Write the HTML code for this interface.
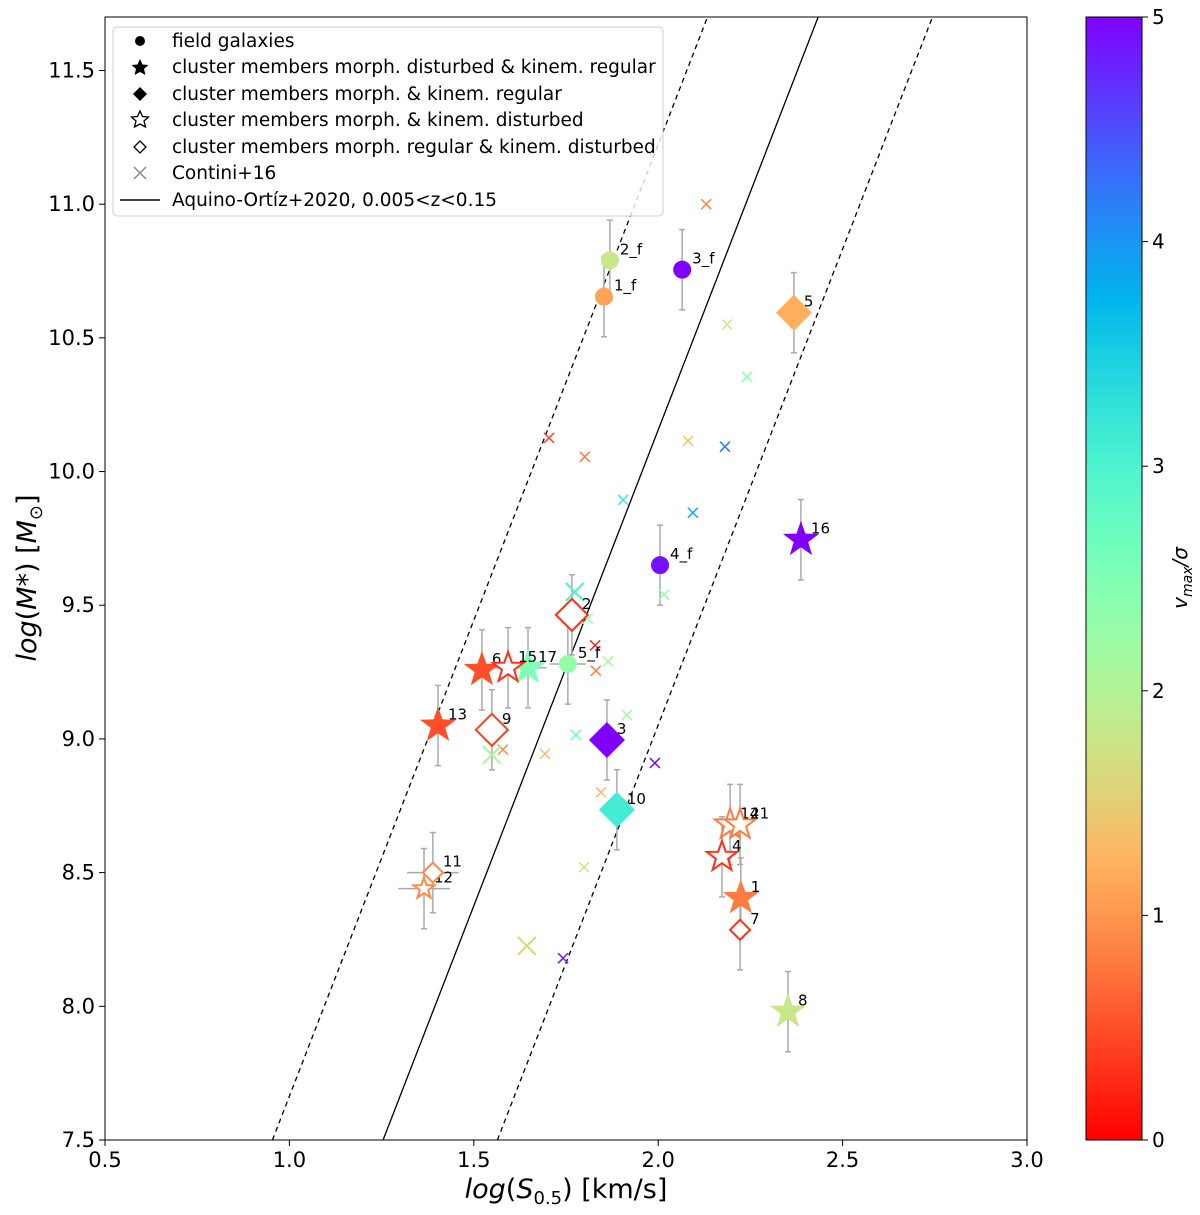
<!DOCTYPE html>
<html><head><meta charset="utf-8"><style>
body{margin:0;background:#fff;}
svg{display:block;font-family:"DejaVu Sans","Liberation Sans",sans-serif;}
</style></head><body>
<svg id="chart" width="1200" height="1215">
<defs><linearGradient id="cbar" x1="0" y1="1" x2="0" y2="0"></linearGradient></defs>
</svg>
<script>
// ---- data ----
const fieldNames = ["1_f","2_f","3_f","4_f","5_f"];
const fieldX = [1.853,1.869,2.065,2.005,1.755];
const fieldY = [10.654,10.79,10.755,9.65,9.28];
const fieldC = [1.1,1.8,5.0,4.9,2.3];

const starNames = ["16","6","17","13","1","8"];
const starX = [2.387,1.522,1.647,1.403,2.224,2.352];
const starY = [9.745,9.258,9.266,9.05,8.405,7.98];
const starC = [5.0,0.5,2.5,0.5,0.8,1.8];

const diaNames = ["5","3","10"];
const diaX = [2.368,1.861,1.888];
const diaY = [10.594,8.996,8.735];
const diaC = [1.2,5.0,3.1];

const ostarNames = ["15","4","14","21","12"];
const ostarX = [1.593,2.173,2.195,2.222,1.365];
const ostarY = [9.266,8.559,8.68,8.68,8.44];
const ostarC = [0.3,0.3,0.8,0.8,0.9];
const ostarBig = [1,1,1,1,0];

const odiaNames = ["2","9","11","7"];
const odiaX = [1.766,1.549,1.389,2.222];
const odiaY = [9.464,9.034,8.5,8.286];
const odiaC = [0.3,0.4,0.9,0.3];
const odiaBig = [1,1,0,0];

const conX = [2.130,2.187,2.241,1.704,1.801,2.081,2.181,1.905,2.094,1.774,1.809,2.016,1.829,1.831,1.864,1.915,1.777,1.693,1.579,1.549,1.991,1.845,1.799,1.644,1.742];
const conY = [11.0,10.55,10.354,10.126,10.055,10.115,10.093,9.894,9.846,9.55,9.45,9.54,9.35,9.255,9.29,9.09,9.015,8.944,8.96,8.94,8.91,8.80,8.52,8.226,8.18];
const conC = [0.9,1.8,2.5,0.4,0.8,1.4,4.2,3.2,3.8,3.0,2.3,2.3,0.2,0.8,2.1,2.2,2.7,1.4,0.9,2.1,5.0,1.3,1.8,1.6,4.8];
const conBig = [0,0,0,0,0,0,0,0,0,1,0,0,0,0,0,0,0,0,0,1,0,0,0,1,0];

const xTicks = [0.5,1.0,1.5,2.0,2.5,3.0];
const yTicks = [7.5,8.0,8.5,9.0,9.5,10.0,10.5,11.0,11.5];
const cTicks = [0,1,2,3,4,5];

// ---- axes ----
const L=105,R=1027,T=17,B=1140, XMIN=0.5,XMAX=3.0,YMIN=7.5,YMAX=11.7;
const sx=v=>L+(v-XMIN)/(XMAX-XMIN)*(R-L);
const sy=v=>B-(v-YMIN)/(YMAX-YMIN)*(B-T);
const svg=document.getElementById('chart');
const NS="http://www.w3.org/2000/svg";
function mk(tag,attrs,parent){const e=document.createElementNS(NS,tag);for(const k in attrs)e.setAttribute(k,attrs[k]);(parent||svg).appendChild(e);return e;}
function cmap(c){const x=1-c/5;const cl=v=>Math.max(0,Math.min(1,v));
 const r=cl(Math.abs(2*x-0.5)),g=cl(Math.sin(Math.PI*x)),b=cl(Math.cos(Math.PI*x/2));
 return `rgb(${Math.round(r*255)},${Math.round(g*255)},${Math.round(b*255)})`;}
function starPts(cx,cy,r){let p=[];for(let i=0;i<10;i++){const a=-Math.PI/2+i*Math.PI/5;const rr=i%2?r*0.4:r;p.push((cx+rr*Math.cos(a)).toFixed(1)+","+(cy+rr*Math.sin(a)).toFixed(1));}return p.join(" ");}
function diaPts(cx,cy,r){return `${cx},${cy-r} ${cx+r},${cy} ${cx},${cy+r} ${cx-r},${cy}`;}

// regression lines
const slope=3.56, x0=1.254;
[[0,"none"],[-0.3,"5,4"],[0.31,"5,4"]].forEach((d,i)=>{
 const xa=x0+d[0], xb=xa+(YMAX-YMIN)/slope;
 const ln=mk('line',{x1:sx(xa),y1:sy(YMIN),x2:sx(xb),y2:sy(YMAX),stroke:"#000","stroke-width":1.3,"stroke-dasharray":d[1]});
 
 
});

// error bars
function ebar(x,y,dy,dx){
 const g=mk('g',{stroke:"#aaa","stroke-width":1.5});
 
 
 mk('line',{x1:sx(x),x2:sx(x),y1:sy(y-dy),y2:sy(y+dy)},g);
 mk('line',{x1:sx(x)-3,x2:sx(x)+3,y1:sy(y-dy),y2:sy(y-dy)},g);
 mk('line',{x1:sx(x)-3,x2:sx(x)+3,y1:sy(y+dy),y2:sy(y+dy)},g);
 if(dx){mk('line',{x1:sx(x-dx),x2:sx(x+dx),y1:sy(y),y2:sy(y)},g);}
}
fieldX.forEach((x,i)=>ebar(x,fieldY[i],0.15,i==4?0.05:0));
starX.forEach((x,i)=>ebar(x,starY[i],0.15,i==2?0.05:0));
diaX.forEach((x,i)=>ebar(x,diaY[i],0.15,0));
ostarX.forEach((x,i)=>ebar(x,ostarY[i],0.15,i==4?0.07:(i==0?0.05:0)));
odiaX.forEach((x,i)=>ebar(x,odiaY[i],0.15,i==2?0.07:0));

function label(x,y,t){const e=mk('text',{x:sx(x)+10,y:sy(y)-6,"font-size":15,fill:"#000"});e.textContent=t;
 
 }

// contini crosses
conX.forEach((x,i)=>{const r=conBig[i]?9:5;const X=sx(x),Y=sy(conY[i]);
 const g=mk('g',{stroke:cmap(conC[i]),"stroke-width":conBig[i]?2:1.5});
 
 
 mk('line',{x1:X-r,y1:Y-r,x2:X+r,y2:Y+r},g);mk('line',{x1:X-r,y1:Y+r,x2:X+r,y2:Y-r},g);});

fieldX.forEach((x,i)=>{const c=mk('circle',{cx:sx(x),cy:sy(fieldY[i]),r:9,fill:cmap(fieldC[i])});
 
 
 label(x,fieldY[i],fieldNames[i]);});
starX.forEach((x,i)=>{const p=mk('polygon',{points:starPts(sx(x),sy(starY[i]),19),fill:cmap(starC[i])});
 
 
 label(x,starY[i],starNames[i]);});
diaX.forEach((x,i)=>{const p=mk('polygon',{points:diaPts(sx(x),sy(diaY[i]),18),fill:cmap(diaC[i])});
 
 
 label(x,diaY[i],diaNames[i]);});
ostarX.forEach((x,i)=>{const p=mk('polygon',{points:starPts(sx(x),sy(ostarY[i]),ostarBig[i]?16:11),fill:"#fff",stroke:cmap(ostarC[i]),"stroke-width":2});
 
 
 label(x,ostarY[i],ostarNames[i]);});
odiaX.forEach((x,i)=>{const p=mk('polygon',{points:diaPts(sx(x),sy(odiaY[i]),odiaBig[i]?16:10),fill:"#fff",stroke:cmap(odiaC[i]),"stroke-width":2});
 
 
 label(x,odiaY[i],odiaNames[i]);});

// frame
const fr=mk('rect',{x:L,y:T,width:R-L,height:B-T,fill:"none",stroke:"#000","stroke-width":1});


xTicks.forEach(v=>{mk('line',{x1:sx(v),x2:sx(v),y1:B,y2:B+6,stroke:"#000"});
 const t=mk('text',{x:sx(v),y:B+27,"font-size":21,"text-anchor":"middle"});t.textContent=v.toFixed(1);
 
 });
yTicks.forEach(v=>{mk('line',{x1:L-6,x2:L,y1:sy(v),y2:sy(v),stroke:"#000"});
 const t=mk('text',{x:L-10,y:sy(v)+7,"font-size":21,"text-anchor":"end"});t.textContent=v.toFixed(1);
 
 });
</script>
<script>
// static parts: axis titles, legend, colorbar
(function(){
const svg=document.getElementById('chart');const NS="http://www.w3.org/2000/svg";
function mk(tag,attrs,parent){const e=document.createElementNS(NS,tag);for(const k in attrs)e.setAttribute(k,attrs[k]);(parent||svg).appendChild(e);return e;}
svg.insertAdjacentHTML('beforeend',`
<text x="566" y="1198" font-size="27" text-anchor="middle"><tspan font-style="italic">log</tspan>(<tspan font-style="italic">S</tspan><tspan font-size="18" dy="6">0.5</tspan><tspan dy="-6">) [km/s]</tspan></text>
<text transform="translate(36,578) rotate(-90)" font-size="27" text-anchor="middle"><tspan font-style="italic">log</tspan>(<tspan font-style="italic">M*</tspan>) [<tspan font-style="italic">M</tspan><tspan font-size="18" dy="6">⊙</tspan><tspan dy="-6">]</tspan></text>
<g>
<rect x="113" y="27" width="550" height="189" rx="4" fill="#fff" fill-opacity="0.8" stroke="#ccc"/>
<circle cx="140" cy="41" r="5" fill="#000"/>
<polygon points="140,59 142.5,64.5 148.5,65 144,69 145.5,75 140,72 134.5,75 136,69 131.5,65 137.5,64.5" fill="#000"/>
<polygon points="140,87 147,94 140,101 133,94" fill="#000"/>
<polygon points="140,111 142.5,116.5 148.5,117 144,121 145.5,127 140,124 134.5,127 136,121 131.5,117 137.5,116.5" fill="#fff" stroke="#000" stroke-width="1.3"/>
<polygon points="140,141 146,147 140,153 134,147" fill="#fff" stroke="#000" stroke-width="1.3"/>
<g stroke="#888" stroke-width="1.5"><line x1="134" y1="167" x2="146" y2="179"/><line x1="134" y1="179" x2="146" y2="167"/></g>
<line x1="120" y1="200" x2="160" y2="200" stroke="#000" stroke-width="1.5"/>
<g font-size="18.5" fill="#000">
<text x="172" y="47">field galaxies</text>
<text x="172" y="73">cluster members morph. disturbed &amp; kinem. regular</text>
<text x="172" y="100">cluster members morph. &amp; kinem. regular</text>
<text x="172" y="126">cluster members morph. &amp; kinem. disturbed</text>
<text x="172" y="153">cluster members morph. regular &amp; kinem. disturbed</text>
<text x="172" y="179">Contini+16</text>
<text x="172" y="206">Aquino-Ortíz+2020, 0.005&lt;z&lt;0.15</text>
</g></g>
<text transform="translate(1187,578) rotate(-90)" font-size="20" text-anchor="middle"><tspan font-style="italic">v</tspan><tspan font-size="14" dy="5" font-style="italic">max</tspan><tspan dy="-5" font-style="italic">/σ</tspan></text>
`);
const grad=document.getElementById('cbar');
for(let i=0;i<=20;i++){const x=i/20;const cl=v=>Math.max(0,Math.min(1,v));
 const xx=1-x;const r=cl(Math.abs(2*xx-0.5)),g=cl(Math.sin(Math.PI*xx)),b=cl(Math.cos(Math.PI*xx/2));
 mk('stop',{offset:x,"stop-color":`rgb(${Math.round(r*255)},${Math.round(g*255)},${Math.round(b*255)})`},grad);}
const cb=mk('rect',{x:1086,y:17,width:56,height:1123,fill:"url(#cbar)",stroke:"#000"});


[0,1,2,3,4,5].forEach(v=>{const y=1140-v/5*1123;mk('line',{x1:1142,x2:1148,y1:y,y2:y,stroke:"#000"});
 const t=mk('text',{x:1152,y:y+7,"font-size":20});t.textContent=v;
 
 });
})();
</script>
</body></html>
